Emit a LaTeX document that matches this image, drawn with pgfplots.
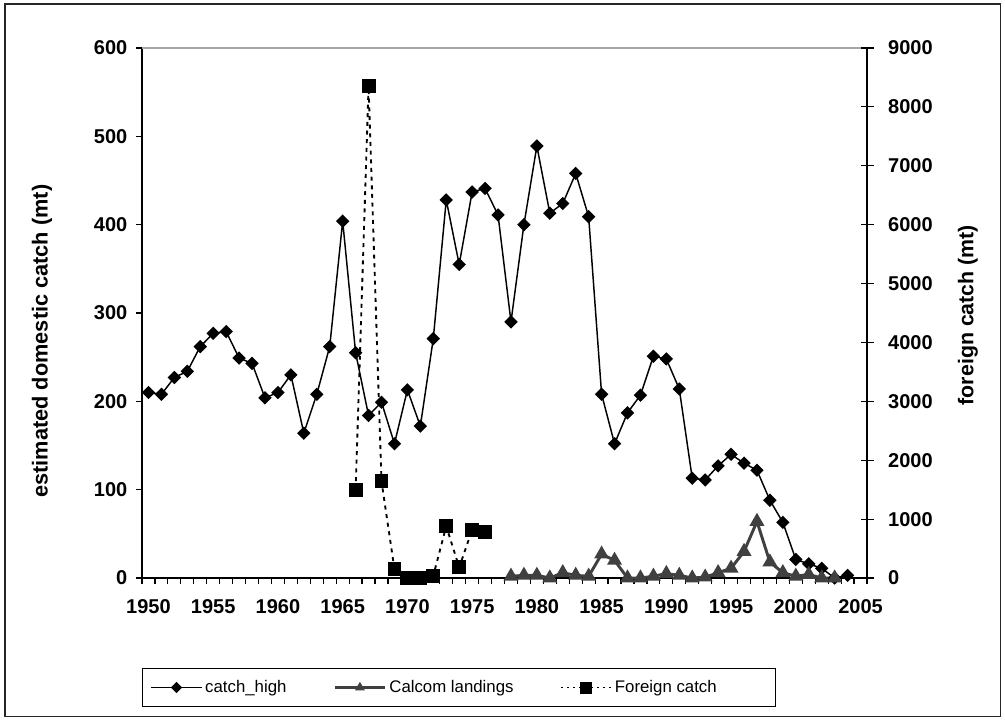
\documentclass[border=0pt]{standalone}
\usepackage{fontspec}
\setmainfont{Liberation Sans}
\usepackage{pgfplots}
\pgfplotsset{compat=1.18}
\definecolor{calgray}{HTML}{404040}
\begin{document}
\begin{tikzpicture}
\useasboundingbox (0,0) rectangle (753.75pt,-540.75pt);
\draw[line width=0.9pt, black!85] (3.75pt,-3pt) rectangle (750.5pt,-537.5pt);
\begin{axis}[
  at={(106.5pt,-433.5pt)}, anchor=south west,
  scale only axis, width=543.75pt, height=397.5pt,
  xmin=1949.5, xmax=2005.5, ymin=0, ymax=600,
  axis x line*=bottom, axis y line*=left,
  axis line style={line width=0.9pt, -},
  xtick={1950,1955,...,2005},
  xticklabels={1950,1955,1960,1965,1970,1975,1980,1985,1990,1995,2000,2005},
  minor xtick={1949.5,1950.5,...,2005.5},
  ytick={0,100,...,600},
  yticklabels={0,100,200,300,400,500,600},
  tick align=outside,
  major tick length=4.5pt, minor tick length=4.5pt,
  every tick/.style={black, line width=0.9pt},
  major x tick style={draw=none},
  tick pos=left,
  xticklabel style={font=\fontsize{15}{18}\selectfont\bfseries, yshift=-8pt},
  yticklabel style={font=\fontsize{15}{18}\selectfont\bfseries, xshift=-3pt},
  ylabel={estimated domestic catch (mt)},
  ylabel style={font=\bfseries\fontsize{16.3}{19}\selectfont, at={(axis description cs:-0.138,0.447)}, anchor=center},
  clip=false,
  legend columns=3,
  legend style={at={(axis description cs:0.0,-0.2066)}, anchor=west, draw=black, line width=0.6pt,
    font=\fontsize{12.6}{14}\selectfont, inner ysep=7pt, inner xsep=6pt,
    /tikz/every even column/.append style={column sep=33pt}},
  legend image code/.code={\draw[#1] (0pt,0pt) -- (38pt,0pt); \draw[#1, draw opacity=0, mark repeat=1] plot coordinates {(19pt,0pt)};},
]
\draw[gray!70, line width=0.9pt] (rel axis cs:0,1) -- (rel axis cs:1,1);
\addplot[black, line width=1.1pt, mark=square*, mark size=3.0pt, mark options={rotate=45, solid}] coordinates {
(1950,210) (1951,208) (1952,227) (1953,234) (1954,262) (1955,277) (1956,279) (1957,249)
(1958,243) (1959,204) (1960,210) (1961,230) (1962,164) (1963,208) (1964,262) (1965,404)
(1966,255) (1967,184) (1968,199) (1969,152) (1970,213) (1971,172) (1972,271) (1973,428)
(1974,355) (1975,437) (1976,441) (1977,411) (1978,290) (1979,400) (1980,489) (1981,413)
(1982,424) (1983,458) (1984,409) (1985,208) (1986,152) (1987,187) (1988,207) (1989,251)
(1990,248) (1991,214) (1992,113) (1993,111) (1994,127) (1995,140) (1996,130) (1997,122)
(1998,88) (1999,63) (2000,21) (2001,16) (2002,11) (2003,0) (2004,3)
};
\addlegendentry{catch\_high}
\addplot[calgray, line width=2.2pt, mark=triangle*, mark size=4.3pt, mark options={solid}] coordinates {
(1978,2) (1979,3) (1980,3) (1981,0) (1982,6) (1983,3) (1984,2) (1985,27) (1986,20)
(1987,0) (1988,0) (1989,2) (1990,5) (1991,3) (1992,0) (1993,1) (1994,6) (1995,11)
(1996,30) (1997,64) (1998,18) (1999,6) (2000,2) (2001,4) (2002,0) (2003,0)
};
\addlegendentry{Calcom landings}
\addlegendimage{black, line width=1.0pt, dash pattern=on 1.5pt off 3pt, mark=square*, mark size=4.5pt, mark options={solid}}
\addlegendentry{\makebox[112pt][l]{Foreign catch}}
\end{axis}
\begin{axis}[
  at={(106.5pt,-433.5pt)}, anchor=south west,
  scale only axis, width=543.75pt, height=397.5pt,
  xmin=1949.5, xmax=2005.5, ymin=0, ymax=9000,
  axis x line=none, axis y line*=right,
  axis line style={line width=0.9pt, -},
  ytick={0,1000,...,9000},
  yticklabels={0,1000,2000,3000,4000,5000,6000,7000,8000,9000},
  tick align=center,
  major tick length=9.75pt,
  every tick/.style={black, line width=0.9pt},
  yticklabel style={font=\fontsize{15}{18}\selectfont\bfseries, xshift=7.5pt},
  ylabel={foreign catch (mt)},
  ylabel style={font=\bfseries\fontsize{16}{18}\selectfont, at={(axis description cs:1.139,0.496)}, anchor=center},
  clip=false,
]
\addplot[black, line width=1.4pt, dash pattern=on 3pt off 3.5pt, mark=square*, mark size=4.5pt, mark options={solid}] coordinates {
(1966,1500) (1967,8350) (1968,1640) (1969,150) (1970,0) (1971,0) (1972,40) (1973,880)
(1974,180) (1975,820) (1976,780)
};
\end{axis}
\end{tikzpicture}
\end{document}
